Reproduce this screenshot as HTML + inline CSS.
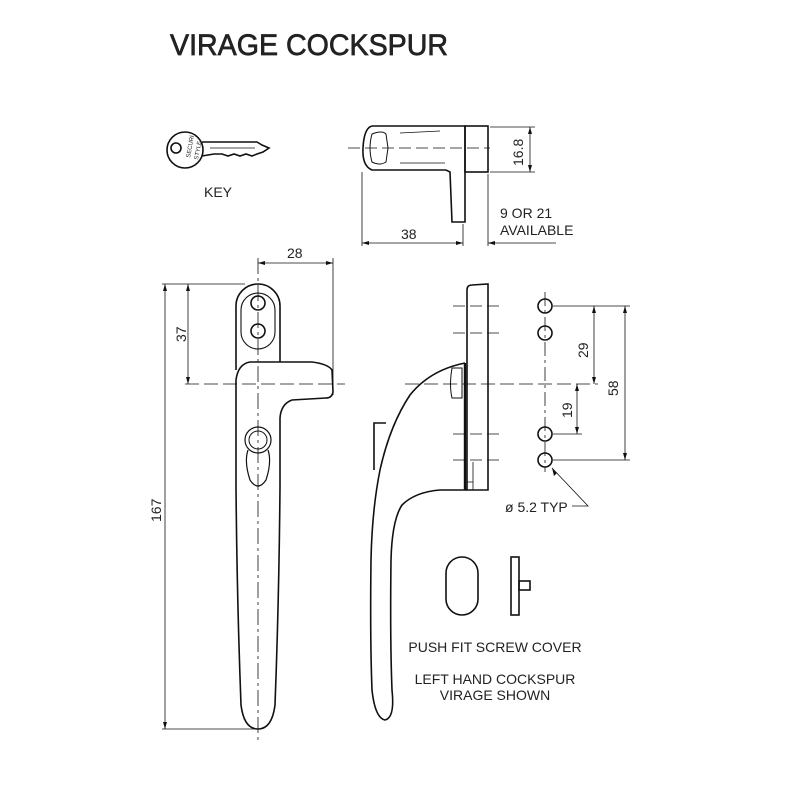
<!DOCTYPE html>
<html><head><meta charset="utf-8"><style>
html,body{margin:0;padding:0;background:#fff}
svg{display:block}
text{font-family:"Liberation Sans",sans-serif;fill:#222}
</style></head><body>
<svg width="800" height="800" viewBox="0 0 800 800" xmlns="http://www.w3.org/2000/svg">
<text x="170" y="55" font-size="30" textLength="278" lengthAdjust="spacingAndGlyphs" stroke="#222" stroke-width="0.7">VIRAGE COCKSPUR</text>

<!-- KEY -->
<g fill="none" stroke="#111" stroke-width="1.6">
<circle cx="185" cy="150" r="18"/>
<circle cx="176" cy="148" r="5"/>
<path d="M202 142 L257 142 L262 145 L269 148 L263 152 L257 154 L252 156 L246 154 L240 156 L234 154 L228 156 L222 154 L214 154 L202 156"/>
<line x1="210" y1="148" x2="255" y2="148" stroke-width="0.8"/>
</g>
<text x="190" y="158" font-size="6" transform="rotate(-80 190 158)">SECURI</text>
<text x="198" y="160" font-size="6" transform="rotate(-80 198 160)">STYLE</text>
<text x="204" y="197" font-size="14">KEY</text>

<!-- Cockspur side view top -->
<g fill="none" stroke="#111" stroke-width="1.6">
<path d="M372 126 L465 126 L465 222 L452 222 L450 172 L446 170 L372 170 Q362 166 363 148 Q364 128 372 126 Z"/>
<rect x="465" y="126" width="23" height="46"/>
<path d="M372 134 Q382 130 386 134 L388 148 L386 162 Q380 166 372 162 Q368 148 372 134 Z" stroke-width="1"/>
</g>
<g stroke="#111" stroke-width="0.8" fill="none">
<line x1="348" y1="148" x2="490" y2="148" stroke-dasharray="12 5"/>
<line x1="400" y1="133" x2="440" y2="131"/><line x1="400" y1="163" x2="445" y2="163"/>
<line x1="490" y1="127" x2="535" y2="127"/><line x1="490" y1="172" x2="535" y2="172"/>
<line x1="530" y1="127" x2="530" y2="172"/>
<line x1="362" y1="172" x2="362" y2="246"/><line x1="463" y1="224" x2="463" y2="246"/>
<line x1="362" y1="243" x2="463" y2="243"/>
<line x1="488" y1="174" x2="488" y2="246"/><line x1="488" y1="243" x2="556" y2="243"/>
</g>
<g fill="#111"><path d="M530 127 l-2 7 h4z"/><path d="M530 172 l-2 -7 h4z"/>
<path d="M362 243 l7 -2 v4z"/><path d="M463 243 l-7 -2 v4z"/><path d="M488 243 l7 -2 v4z"/></g>
<text x="523" y="166" font-size="14" transform="rotate(-90 523 166)">16.8</text>
<text x="401" y="239" font-size="14">38</text>
<text x="500" y="218" font-size="14">9 OR 21</text>
<text x="500" y="235" font-size="14">AVAILABLE</text>

<!-- Front handle -->
<g fill="none" stroke="#111" stroke-width="1.6">
<path d="M236 370 L236 306 A22 22 0 0 1 280 306 L280 362"/>
<path d="M250 362 L312 362 Q328 364 332 370 L333 392 Q332 398 326 398 L292 400 Q281 404 280 418 L280 487 Q279 600 275 705 Q272 729 258 729 Q244 729 241 705 Q237 600 236 487 L236 380 Q238 364 250 362 Z"/>
<path d="M241 310 A17 17 0 0 1 275 310 L275 332 A17 17 0 0 1 241 332 Z" stroke-width="1.1"/>
<circle cx="258" cy="303" r="7"/><circle cx="258" cy="331" r="7"/>
<circle cx="258" cy="440" r="13" stroke-width="1.2"/>
<circle cx="258" cy="440" r="9" stroke-width="1"/>
<path d="M248 450 Q244 462 250 480 Q258 492 266 480 Q272 462 268 450" stroke-width="1.2"/>
</g>
<g stroke="#111" stroke-width="0.8" fill="none">
<line x1="258" y1="258" x2="258" y2="740" stroke-dasharray="16 4 3 4"/>
<line x1="333" y1="258" x2="333" y2="395"/>
<line x1="258" y1="263" x2="333" y2="263"/>
<line x1="162" y1="284" x2="245" y2="284"/>
<line x1="185" y1="384" x2="345" y2="384" stroke-dasharray="14 5"/>
<line x1="188" y1="284" x2="188" y2="384"/>
<line x1="165" y1="284" x2="165" y2="729"/>
<line x1="162" y1="729" x2="258" y2="729"/>
</g>
<g fill="#111"><path d="M258 263 l7 -2 v4z"/><path d="M333 263 l-7 -2 v4z"/>
<path d="M188 284 l-2 7 h4z"/><path d="M188 384 l-2 -7 h4z"/>
<path d="M165 284 l-2 7 h4z"/><path d="M165 729 l-2 -7 h4z"/></g>
<text x="287" y="258" font-size="14">28</text>
<text x="186" y="342" font-size="14" transform="rotate(-90 186 342)">37</text>
<text x="161" y="522" font-size="14" transform="rotate(-90 161 522)">167</text>

<!-- Side handle -->
<g fill="none" stroke="#111" stroke-width="1.6">
<path d="M467 290 Q467 285 472 285 L488 284 L488 490 L467 490 Z"/>
<line x1="465" y1="363" x2="465" y2="490" stroke-width="2.4"/>
<path d="M465 363 Q430 370 410 395 Q390 425 380 470 Q372 510 371 560 Q370 640 372 690 Q375 718 385 720 Q395 718 392 690 Q390 640 391 560 Q392 520 402 505 Q415 492 440 490 L467 490"/>
<path d="M374 470 L374 423 L386 423"/>
<path d="M452 368 L462 368 L462 398 L452 398 Q449 385 452 368 Z" stroke-width="1"/>
<path d="M473 462 L473 490 M467 482 L473 482" stroke-width="0.8"/>
</g>
<g stroke="#111" stroke-width="0.8" fill="none">
<line x1="453" y1="306" x2="503" y2="306" stroke-dasharray="12 5"/>
<line x1="453" y1="333" x2="503" y2="333" stroke-dasharray="12 5"/>
<line x1="453" y1="434" x2="503" y2="434" stroke-dasharray="12 5"/>
<line x1="453" y1="460" x2="503" y2="460" stroke-dasharray="12 5"/>
<line x1="405" y1="384" x2="598" y2="384" stroke-dasharray="14 5"/>
<line x1="545" y1="292" x2="545" y2="472" stroke-dasharray="14 4 3 4"/>
<line x1="553" y1="306" x2="630" y2="306"/>
<line x1="553" y1="460" x2="630" y2="460"/>
<line x1="553" y1="434" x2="582" y2="434"/>
<line x1="625" y1="306" x2="625" y2="460"/>
<line x1="594" y1="306" x2="594" y2="384"/>
<line x1="577" y1="384" x2="577" y2="434"/>
<path d="M552 468 L588 506 L572 506"/>
</g>
<g fill="none" stroke="#111" stroke-width="1.6">
<circle cx="545" cy="306" r="7"/><circle cx="545" cy="333" r="7"/>
<circle cx="545" cy="434" r="7"/><circle cx="545" cy="460" r="7"/>
</g>
<g fill="#111"><path d="M625 306 l-2 7 h4z"/><path d="M625 460 l-2 -7 h4z"/>
<path d="M594 306 l-2 7 h4z"/><path d="M594 384 l-2 -7 h4z"/>
<path d="M577 384 l-2 7 h4z"/><path d="M577 434 l-2 -7 h4z"/>
<path d="M552 468 l2 8 l3 -3z"/></g>
<text x="618" y="396" font-size="14" transform="rotate(-90 618 396)">58</text>
<text x="588" y="358" font-size="14" transform="rotate(-90 588 358)">29</text>
<text x="572" y="418" font-size="14" transform="rotate(-90 572 418)">19</text>
<text x="505" y="512" font-size="14">ø 5.2 TYP</text>

<!-- screw cover -->
<g fill="none" stroke="#111" stroke-width="1.6">
<rect x="446" y="557" width="32" height="58" rx="16"/>
<rect x="511" y="557" width="8" height="58"/>
<rect x="519" y="581" width="11" height="9"/>
</g>
<g font-size="14" text-anchor="middle">
<text x="495" y="652">PUSH FIT SCREW COVER</text>
<text x="495" y="684">LEFT HAND COCKSPUR</text>
<text x="495" y="700">VIRAGE SHOWN</text>
</g>
</svg>
</body></html>
